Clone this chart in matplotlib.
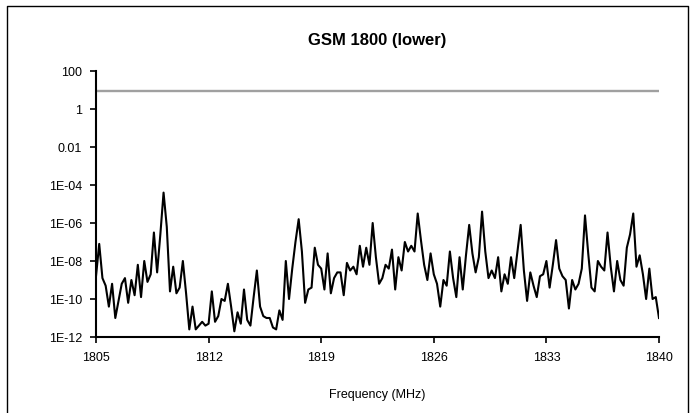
import numpy as np
import matplotlib
matplotlib.use("Agg")
import matplotlib.pyplot as plt
from matplotlib.lines import Line2D

plt.rcParams['font.family'] = ['Liberation Sans', 'DejaVu Sans']

# measured level, log10 exponents, one point every 0.2 MHz from 1805 to 1840
level_exp = [
    -8.8, -7.1, -8.9, -9.3, -10.4, -9.2, -11.0, -10.1, -9.2, -8.9,
    -10.2, -9.0, -9.8, -8.2, -9.9, -8.0, -9.1, -8.7, -6.5, -8.6,
    -6.6, -4.4, -6.2, -9.6, -8.3, -9.7, -9.4, -8.0, -9.7, -11.6,
    -10.4, -11.6, -11.4, -11.2, -11.4, -11.3, -9.6, -11.2, -10.9, -10.0,
    -10.1, -9.2, -10.4, -11.7, -10.7, -11.3, -9.5, -11.1, -11.4, -9.9,
    -8.5, -10.4, -10.9, -11.0, -11.0, -11.5, -11.6, -10.6, -11.1, -8.0,
    -10.0, -8.4, -7.0, -5.8, -7.5, -10.2, -9.5, -9.4, -7.3, -8.2,
    -8.4, -9.5, -7.6, -9.7, -8.9, -8.6, -8.6, -9.8, -8.1, -8.5,
    -8.3, -8.7, -7.2, -8.3, -7.3, -8.2, -6.0, -7.8, -9.2, -8.9,
    -8.2, -8.4, -7.4, -9.5, -7.8, -8.5, -7.0, -7.5, -7.2, -7.5,
    -5.5, -6.9, -8.2, -9.0, -7.6, -8.7, -9.2, -10.4, -9.0, -9.3,
    -7.5, -8.9, -9.9, -7.8, -9.5, -7.7, -6.1, -7.6, -8.6, -7.8,
    -5.4, -7.5, -8.9, -8.5, -8.9, -7.8, -9.6, -8.7, -9.2, -7.8,
    -8.9, -7.5, -6.1, -8.5, -10.1, -8.6, -9.3, -9.9, -8.8, -8.7,
    -8.0, -9.4, -8.2, -6.9, -8.4, -8.8, -9.0, -10.5, -9.0, -9.5,
    -9.2, -8.4, -5.6, -7.6, -9.4, -9.6, -8.0, -8.3, -8.5, -6.5,
    -8.3, -9.6, -8.0, -9.0, -9.3, -7.3, -6.6, -5.5, -8.3, -7.7,
    -8.7, -10.0, -8.4, -10.0, -9.9, -11.0,
]
freq_start = 1805.0
freq_stop = 1840.0
limit_level = 9.0

x_ticks = [1805, 1812, 1819, 1826, 1833, 1840]
y_ticks = [1e2, 1e0, 1e-2, 1e-4, 1e-6, 1e-8, 1e-10, 1e-12]
y_tick_labels = ['100', '1', '0.01', '1E-04', '1E-06', '1E-08', '1E-10', '1E-12']

freqs = np.linspace(freq_start, freq_stop, len(level_exp))
levels = np.power(10.0, np.array(level_exp))

fig = plt.figure(figsize=(6.97, 4.14), dpi=100)
ax = fig.add_axes([96 / 697, 1 - 338 / 414, (659 - 96) / 697, (338 - 72) / 414])

ax.plot([freq_start, freq_stop], [limit_level, limit_level], color='#a0a0a0', linewidth=1.7)
ax.plot(freqs, levels, color='black', linewidth=1.5)

ax.set_yscale('log')
ax.set_xlim(freq_start, freq_stop)
ax.set_ylim(1e-12, 1e2)
ax.set_yticks(y_ticks)
ax.set_yticklabels(y_tick_labels)
ax.yaxis.set_minor_locator(matplotlib.ticker.NullLocator())
ax.set_xticks(x_ticks)
ax.set_xticklabels([str(t) for t in x_ticks])

for side in ['top', 'right']:
    ax.spines[side].set_visible(False)
for side in ['left', 'bottom']:
    ax.spines[side].set_linewidth(1.5)
    ax.spines[side].set_color('black')
ax.tick_params(axis='both', direction='out', length=4, width=1.2, labelsize=9, pad=6)

ax.set_xlabel('Frequency (MHz)', fontsize=9, labelpad=18)
fig.text(377 / 697, 1 - 40 / 414, 'GSM 1800 (lower)', ha='center', va='center',
         fontsize=12, fontweight='bold')

# chart area border (bottom edge is outside the picture)
fig.add_artist(Line2D([7 / 697, 7 / 697, 688 / 697, 688 / 697],
                      [0, 1 - 7 / 414, 1 - 7 / 414, 0],
                      transform=fig.transFigure, color='black', linewidth=1.0))

fig.savefig('out.png', dpi=100)
